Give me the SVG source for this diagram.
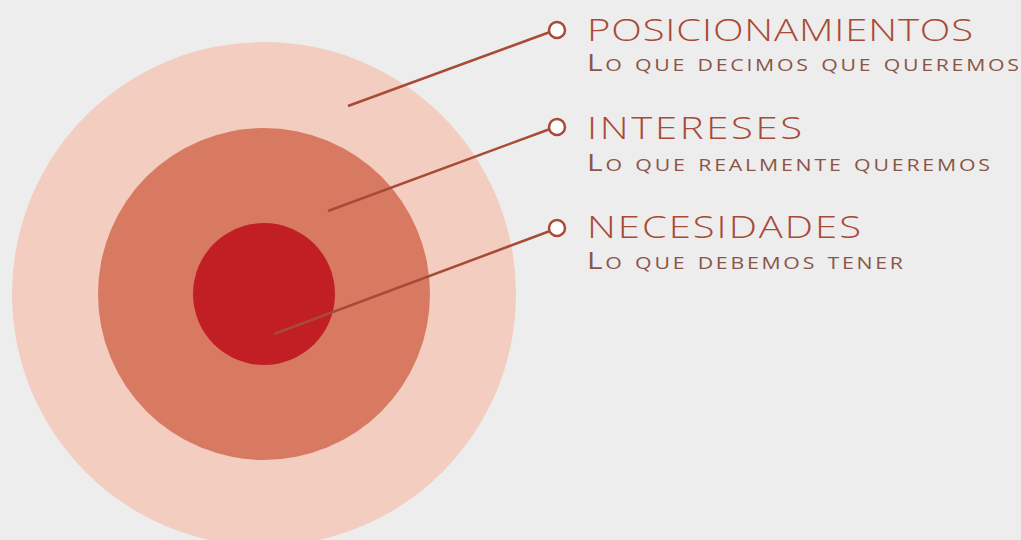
<svg xmlns="http://www.w3.org/2000/svg" width="1021" height="540" viewBox="0 0 1021 540">
<style>
.title{font-family:"Open Sans","Liberation Sans",sans-serif;font-weight:300;font-size:32px;fill:#a84a36}
.sub{font-family:"Open Sans","Liberation Sans",sans-serif;font-weight:400;font-size:23px;font-variant:small-caps;fill:#8a5547}
.conn{stroke:#a84a36;stroke-width:2.5;fill:none}
.dot{fill:#ffffff;stroke:#a84a36;stroke-width:2.5}
</style>
<rect width="1021" height="540" fill="#ededed"/>
<g id="rings">
<circle id="outer" cx="264" cy="294" r="252" fill="#f2cdc0"/>
<circle id="middle" cx="264" cy="294" r="166" fill="#d77a61"/>
<circle id="inner" cx="264" cy="294" r="71" fill="#c21f25"/>
</g>
<g id="connectors">
<line class="conn" x1="348" y1="106" x2="550" y2="32"/>
<line class="conn" x1="328" y1="211" x2="550" y2="129"/>
<line class="conn" x1="274" y1="334" x2="550" y2="231"/>
</g>
<g id="node-posicionamientos">
<circle class="dot" cx="557" cy="30" r="8"/>
<text class="title" transform="translate(587 41) scale(1.25 1)" textLength="308.8" lengthAdjust="spacing">POSICIONAMIENTOS</text>
<text class="sub" transform="translate(587 71) scale(1.3 1)" textLength="332.3" lengthAdjust="spacing">Lo que decimos que queremos</text>
</g>
<g id="node-intereses">
<circle class="dot" cx="557" cy="127" r="8"/>
<text class="title" transform="translate(587 139) scale(1.25 1)" textLength="172" lengthAdjust="spacing">INTERESES</text>
<text class="sub" transform="translate(587 171) scale(1.3 1)" textLength="310" lengthAdjust="spacing">Lo que realmente queremos</text>
</g>
<g id="node-necesidades">
<circle class="dot" cx="557" cy="228" r="8"/>
<text class="title" transform="translate(587 238) scale(1.25 1)" textLength="219.2" lengthAdjust="spacing">NECESIDADES</text>
<text class="sub" transform="translate(587 269) scale(1.3 1)" textLength="243.1" lengthAdjust="spacing">Lo que debemos tener</text>
</g>
</svg>
